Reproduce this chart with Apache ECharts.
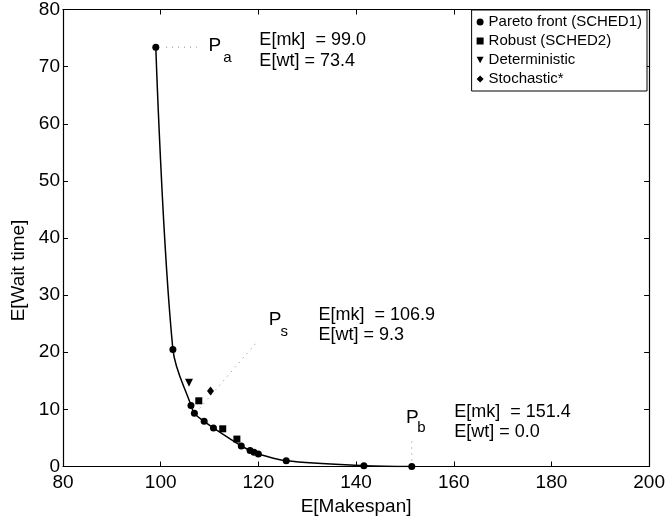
<!DOCTYPE html>
<html><head><meta charset="utf-8">
<script src="https://cdn.jsdelivr.net/npm/echarts@6/dist/echarts.min.js"></script>
<style>html,body{margin:0;padding:0;background:#fff}#c{width:668px;height:524px}</style>
</head><body><div id="c"></div>
<script>
// ---- data ----
const xRange = [80, 200];
const yRange = [0, 80];
const paretoFront = [[99.0,73.4],[102.5,20.5],[106.2,10.7],[106.9,9.3],[108.9,7.9],[110.8,6.75],[116.5,3.6],[118.3,2.8],[119.1,2.5],[120.0,2.2],[125.7,1.0],[141.6,0.15],[151.4,0.0]];
const robust = [[107.8,11.5],[112.7,6.6],[115.6,4.8]];
const deterministic = [[105.8,14.65]];
const stochastic = [[110.2,13.2]];
const seriesNames = ['Pareto front (SCHED1)','Robust (SCHED2)','Deterministic','Stochastic*'];
const annoP = [[109.7,73.6,'P'],[122.0,25.6,'P'],[150.1,8.6,'P']];
const annoSub = [[112.7,71.5,'a'],[124.4,23.5,'s'],[152.4,6.8,'b']];
const annoMk = [[120.1,74.7,'E[mk]  = 99.0'],[132.2,26.6,'E[mk]  = 106.9'],[160.0,9.6,'E[mk]  = 151.4']];
const annoWt = [[120.1,70.9,'E[wt] = 73.4'],[132.2,23.1,'E[wt] = 9.3'],[160.0,6.1,'E[wt] = 0.0']];
const leaderA = [[101.1,73.4],[107.4,73.4]];
const leaderS = [[108.0,10.2],[119.6,21.7]];
const leaderB = [[151.4,0],[151.4,5.2]];

const FONT = '"Liberation Sans", Arial, Helvetica, sans-serif';
const triDown = 'path://M0,0 L10,0 L5,9 Z';
const chart = echarts.init(document.getElementById('c'), null, {renderer:'canvas'});

function textSeries(arr, size) {
  return {
    type:'scatter', silent:true, symbolSize:1, itemStyle:{color:'rgba(0,0,0,0)', opacity:1}, z:5,
    data: arr.map(d => ({value:[d[0], d[1]], name:d[2]})),
    label:{show:true, position:'right', distance:0, formatter:'{b}', color:'#000', opacity:1,
      fontFamily:FONT, fontSize:size}
  };
}
function leader(arr) {
  return {type:'line', silent:true, symbol:'none', data:arr, z:1,
    lineStyle:{color:'#8a8a8a', width:1, type:[1,5]}};
}
const axisCommon = {
  axisLine:{show:true, onZero:false, lineStyle:{color:'#000', width:1.2}},
  axisTick:{show:true, inside:true, length:5, lineStyle:{color:'#000'}},
  splitLine:{show:false}
};
const option = {
  animation:false,
  backgroundColor:'#fff',
  grid:{left:63, right:17, top:4.5, bottom:57.5, containLabel:false},
  xAxis:[
    Object.assign({type:'value', min:xRange[0], max:xRange[1], interval:20, position:'bottom',
      name:'E[Makespan]', nameLocation:'middle', nameGap:29,
      nameTextStyle:{fontFamily:FONT, fontSize:19, color:'#000'},
      axisLabel:{fontFamily:FONT, fontSize:19, color:'#000', margin:7}}, axisCommon),
    Object.assign({type:'value', min:xRange[0], max:xRange[1], interval:20, position:'top',
      axisLabel:{show:false}}, axisCommon)
  ],
  yAxis:[
    Object.assign({type:'value', min:yRange[0], max:yRange[1], interval:10, position:'left',
      name:'E[Wait time]', nameLocation:'middle', nameGap:30,
      nameTextStyle:{fontFamily:FONT, fontSize:19, color:'#000', padding:[0,65,0,0]},
      axisLabel:{fontFamily:FONT, fontSize:19, color:'#000', margin:3}}, axisCommon),
    Object.assign({type:'value', min:yRange[0], max:yRange[1], interval:10, position:'right',
      axisLabel:{show:false}}, axisCommon)
  ],
  legend:{
    orient:'vertical', right:21, top:10,
    data:[
      {name:seriesNames[0], icon:'circle'},
      {name:seriesNames[1], icon:'rect'},
      {name:seriesNames[2], icon:triDown},
      {name:seriesNames[3], icon:'diamond'}
    ],
    itemWidth:7, itemHeight:7, itemGap:1, itemTextGap:7,
    padding:[3,5,3,5],
    borderColor:'#000', borderWidth:1, backgroundColor:'#fff',
    itemStyle:{color:'#000', opacity:1},
    textStyle:{fontFamily:FONT, fontSize:15, color:'#000', lineHeight:18},
    selectedMode:false
  },
  series:[
    {name:'curve', type:'line', data:paretoFront, smooth:0.35, symbol:'none',
      lineStyle:{color:'#000', width:1.5}, z:2, silent:true},
    leader(leaderA), leader(leaderS), leader(leaderB),
    {name:seriesNames[0], type:'scatter', data:paretoFront, symbol:'circle', symbolSize:7,
      itemStyle:{color:'#000', opacity:1}, z:3},
    {name:seriesNames[1], type:'scatter', data:robust, symbol:'rect', symbolSize:7,
      itemStyle:{color:'#000', opacity:1}, z:3},
    {name:seriesNames[2], type:'scatter', data:deterministic, symbol:triDown, symbolSize:[8,8],
      itemStyle:{color:'#000', opacity:1}, z:3},
    {name:seriesNames[3], type:'scatter', data:stochastic, symbol:'diamond', symbolSize:[7,9],
      itemStyle:{color:'#000', opacity:1}, z:3},
    textSeries(annoP, 19),
    textSeries(annoSub, 15),
    textSeries(annoMk, 18),
    textSeries(annoWt, 18)
  ]
};
chart.setOption(option);
</script></body></html>
